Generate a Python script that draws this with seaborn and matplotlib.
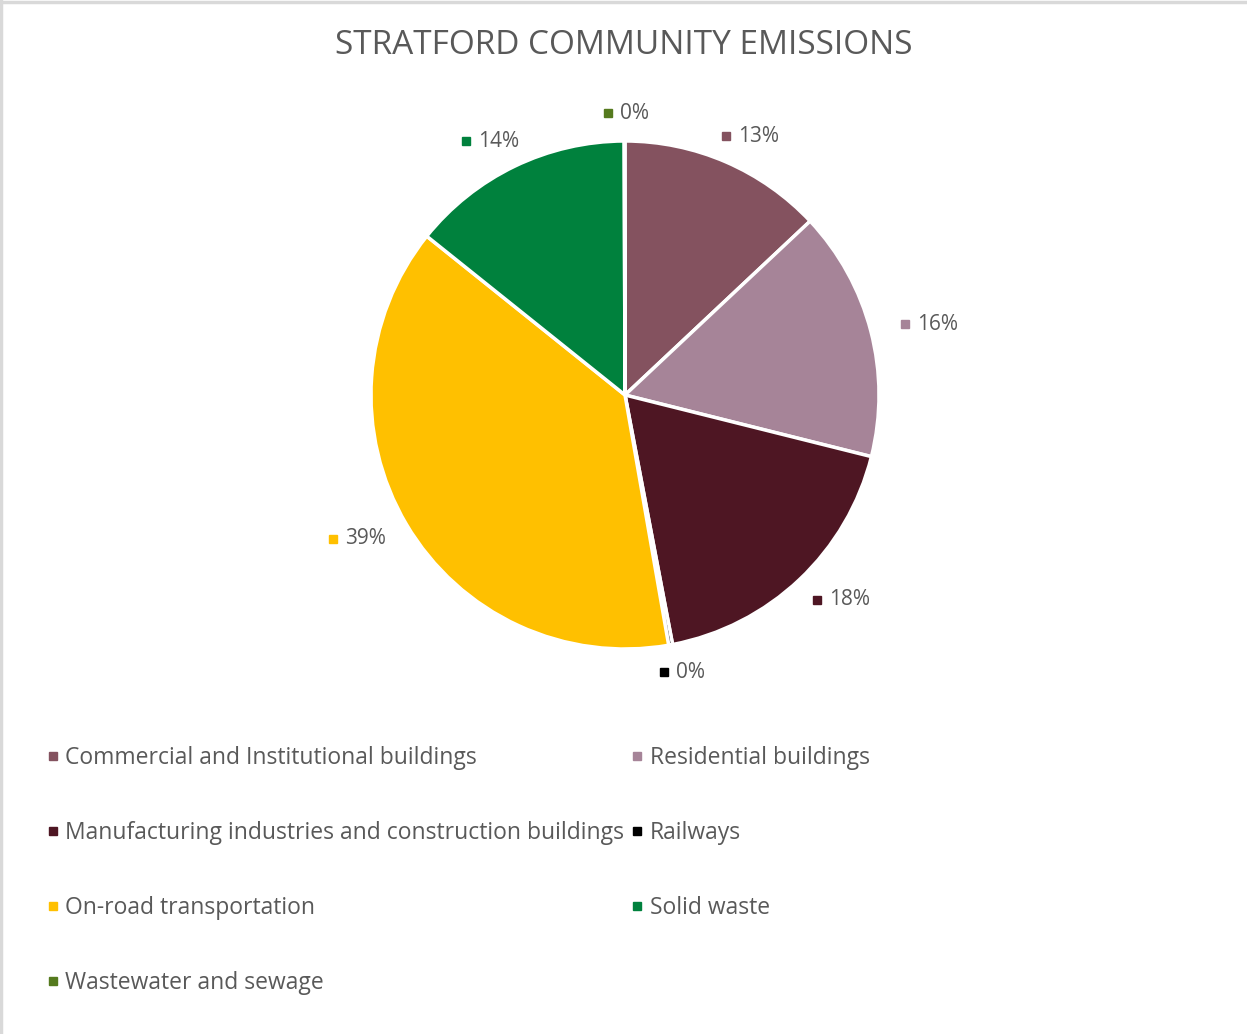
import numpy as np
import pandas as pd
import seaborn as sns
import matplotlib.pyplot as plt
from matplotlib.lines import Line2D

# data
categories = ['Commercial and Institutional buildings', 'Residential buildings',
              'Manufacturing industries and construction buildings', 'Railways',
              'On-road transportation', 'Solid waste', 'Wastewater and sewage']
shares = [13.0, 15.9, 18.1, 0.25, 38.5, 14.2, 0.05]
pct_labels = ['13%', '16%', '18%', '0%', '39%', '14%', '0%']
colors = ['#84525F', '#A68498', '#4E1623', '#000000', '#FFC000', '#00813D', '#557A1E']

df = pd.DataFrame({'category': categories, 'share': shares, 'label': pct_labels, 'color': colors})

sns.set_theme(style='white')
plt.rcParams['font.family'] = ['Open Sans', 'DejaVu Sans']
txt = '#595959'

fig = plt.figure(figsize=(12.47, 10.34), dpi=100)

# pie axes placed like the original
cx, cy, r = 625 / 1247, 1 - 395 / 1034, 254
ax = fig.add_axes([cx - r / 1247, cy - r / 1034, 2 * r / 1247, 2 * r / 1034])
wedges, _ = ax.pie(df['share'], colors=df['color'], startangle=90, counterclock=False,
                   radius=1, wedgeprops=dict(edgecolor='white', linewidth=2.5))
ax.set_aspect('equal')
ax.set_xlim(-1, 1)
ax.set_ylim(-1, 1)

# percentage labels outside slices (label box sits a fixed gap off the rim)
texts = []
for w, lab, col in zip(wedges, df['label'], df['color']):
    ang = np.deg2rad((w.theta1 + w.theta2) / 2)
    x = 1.23 * np.cos(ang)
    y = 1.11 * np.sin(ang)
    t = ax.annotate(lab, (x, y), xytext=(7, 0), textcoords='offset points',
                    ha='center', va='center', fontsize=15, color=txt, annotation_clip=False)
    texts.append((t, col, y))

fig.canvas.draw()
inv = ax.transData.inverted()
for t, col, y in texts:
    bb = t.get_window_extent()
    mx, _ = inv.transform((bb.x0 - 12, 0))
    ax.plot(mx, y, marker='s', markersize=5.5, color=col, clip_on=False)

fig.text(0.5, 1 - 45 / 1034, 'STRATFORD COMMUNITY EMISSIONS', ha='center', va='center',
         fontsize=24, color=txt)

# legend, filled row by row like the reference
order = [0, 2, 4, 6, 1, 3, 5]
handles = [Line2D([], [], marker='s', linestyle='', markersize=6, color=colors[i]) for i in order]
labels = [categories[i] for i in order]
fig.legend(handles, labels, ncol=2, loc='upper left', bbox_to_anchor=(0.021, 0.298),
           frameon=False, fontsize=16.5, labelcolor=txt, handlelength=0.5, handletextpad=0.3,
           labelspacing=2.22, columnspacing=0.33)

# light border on top and left
fig.add_artist(plt.Line2D([0, 1], [0.9985, 0.9985], color='#D9D9D9', lw=2.5, transform=fig.transFigure))
fig.add_artist(plt.Line2D([0.001, 0.001], [0, 1], color='#D9D9D9', lw=2.5, transform=fig.transFigure))

plt.savefig('out.png', dpi=100)
